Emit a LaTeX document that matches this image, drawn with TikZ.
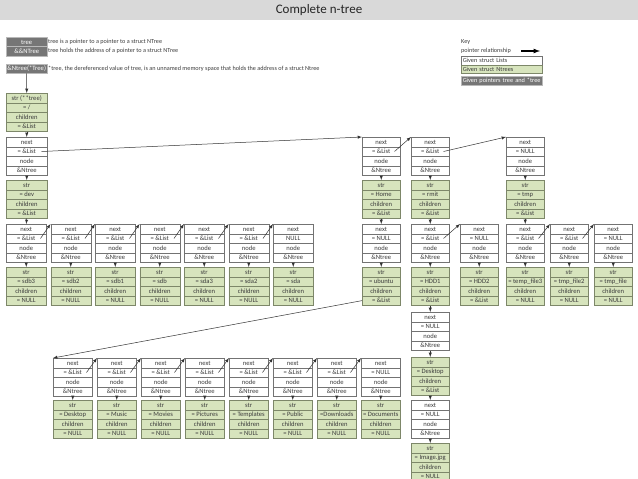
\documentclass[tikz,border=0pt]{standalone}
\usepackage{fontspec}
\setmainfont{Carlito}
\usepackage{tikz}
\tikzset{>=latex}
\usetikzlibrary{calc,arrows,shapes.multipart}

\definecolor{ntgreen}{RGB}{215,228,189}
\definecolor{ntedge}{RGB}{125,135,105}
\definecolor{lsedge}{RGB}{115,115,115}
\definecolor{ptrgray}{RGB}{118,118,118}
\definecolor{txtgray}{RGB}{60,60,60}

\newcommand{\cellfont}{\fontsize{6.6}{7}\selectfont}
\newcommand{\cellstrut}{\rule[-2.4pt]{0pt}{9pt}}
\newcommand{\lstxt}[1]{\cellstrut next\nodepart{two}\cellstrut #1\nodepart{three}\cellstrut node\nodepart{four}\cellstrut \&Ntree}
\newcommand{\nttxt}[2]{\cellstrut str\nodepart{two}\cellstrut #1\nodepart{three}\cellstrut children\nodepart{four}\cellstrut #2}
\newcommand{\nextarrow}[2]{\draw[ptr] ($(#1.text split east)!.5!(#1.two split east)+(-6,0)$) -- (#2.north west);}

\begin{document}
\begin{tikzpicture}[x=1pt, y=-1pt,
    cell/.style={rectangle split, rectangle split parts=4, anchor=north west, inner xsep=0pt, inner ysep=0pt, minimum width=38pt, font=\cellfont, text=txtgray, line width=0.5pt},
    lsbox/.style={cell, draw=lsedge, fill=white},
    ntbox/.style={cell, draw=ntedge, fill=ntgreen},
    ptrbox/.style={anchor=north west, draw=gray!55, fill=ptrgray, text=white, inner sep=0pt, minimum width=41pt, font=\cellfont},
    note/.style={anchor=west, inner sep=0pt, font=\fontsize{6.2}{7}\selectfont, text=txtgray},
    keybox/.style={anchor=north west, inner xsep=1.5pt, inner ysep=0pt, text width=78pt, align=left, font=\fontsize{6.3}{7}\selectfont, text=txtgray, line width=0.5pt},
    ptr/.style={->, draw=black!80, line width=0.5pt}]
            \useasboundingbox (0,0) rectangle (638,479);
            \fill[gray!30] (0,0) rectangle (638,20);
            \node[font=\fontsize{13}{15}\selectfont, text=black!85] (title) at (319,10) {Complete n-tree};

            \node[ptrbox, rectangle split, rectangle split parts=2] (tree) at (6,37) {\cellstrut tree\nodepart{two}\cellstrut \&\&NTree};
            \node[ptrbox] (deref) at (6,64) {\cellstrut \&Ntree(*Tree)};
            \node[note] (n1) at (48,41.5) {tree is a pointer to a pointer to a struct NTree};
            \node[note] (n2) at (48,50.5) {tree holds the address of a pointer to a struct NTree};
            \node[note] (n3) at (48,68.5) {*tree, the dereferenced value of tree, is an unnamed memory space that holds the address of a struct Ntree};

            \node[note] (key) at (461,42) {Key};
            \node[note] (keyrel) at (461,51) {pointer relationship};
            \coordinate (ka) at (521,51);
            \coordinate (kb) at (540,51);
            \draw[->, line width=1.2pt] (ka) -- (kb);
            \node[keybox, draw=lsedge, fill=white, minimum height=8.5pt] (keyls) at (461,56) {Given struct Lists};
            \node[keybox, draw=ntedge, fill=ntgreen, minimum height=8.5pt] (keynt) at (461,64.5) {Given struct Ntrees};
            \node[keybox, draw=gray!55, fill=ptrgray, text=white, minimum height=9pt] (keyptr) at (461,76) {Given pointers tree and *tree};

            \node[ntbox, minimum width=41pt] (root) at (6,93) {\cellstrut str (**tree)\nodepart{two}\cellstrut = /\nodepart{three}\cellstrut children\nodepart{four}\cellstrut = \&List};
            \node[lsbox, minimum width=41pt] (rootls) at (6,137) {\lstxt{= \&List}};
            \node[ntbox, minimum width=41pt] (dev) at (6,180) {\nttxt{= dev}{= \&List}};
            \draw[ptr] (deref.south) -- (root.north);
            \draw[ptr] (root.south) -- (rootls.north);
            \draw[ptr] (rootls.south) -- (dev.north);

            \foreach \nx/\nm [count=\i from 0] in {= \&List/sdb3,= \&List/sdb2,= \&List/sdb1,= \&List/sdb,= \&List/sda3,= \&List/sda2,NULL/sda}
            {
            \node[lsbox, minimum width=40pt] (la\i) at (6+44.5*\i,224) {\lstxt{\nx}};
            \node[ntbox, minimum width=40pt] (ga\i) at (6+44.5*\i,267) {\nttxt{= \nm}{= NULL}};
            \draw[ptr] (la\i.south) -- (ga\i.north);
            }
            \draw[ptr] (dev.south) -- (la0.north);
            \foreach \i in {0,...,5}
            {
            \pgfmathtruncatemacro{\j}{\i+1}
            \nextarrow{la\i}{la\j}
            }

            \node[lsbox] (homels) at (362,137) {\lstxt{= \&List}};
            \node[ntbox] (home) at (362,180) {\nttxt{= Home}{= \&List}};
            \node[lsbox] (rmitls) at (411,137) {\lstxt{= \&List}};
            \node[ntbox] (rmit) at (411,180) {\nttxt{= rmit}{= \&List}};
            \node[lsbox] (tmpls) at (506,137) {\lstxt{= NULL}};
            \node[ntbox] (tmp) at (506,180) {\nttxt{= tmp}{= \&List}};
            \draw[ptr] (homels.south) -- (home.north);
            \draw[ptr] (rmitls.south) -- (rmit.north);
            \draw[ptr] (tmpls.south) -- (tmp.north);
            \nextarrow{rootls}{homels}
            \nextarrow{homels}{rmitls}
            \nextarrow{rmitls}{tmpls}

            \foreach \x/\nx/\nm/\ch [count=\i from 0] in {362/= NULL/= ubuntu/= \&List,411/= \&List/= HDD1/= \&List,460/= NULL/= HDD2/= \&List,506/= \&List/= temp\_file3/= NULL,550/= \&List/= tmp\_file2/= NULL,594/= NULL/= tmp\_file/= NULL}
            {
            \node[lsbox] (lb\i) at (\x,224) {\lstxt{\nx}};
            \node[ntbox] (gb\i) at (\x,267) {\nttxt{\nm}{\ch}};
            \draw[ptr] (lb\i.south) -- (gb\i.north);
            }
            \draw[ptr] (home.south) -- (lb0.north);
            \draw[ptr] (rmit.south) -- (lb1.north);
            \draw[ptr] (tmp.south) -- (lb3.north);
            \nextarrow{lb1}{lb2}
            \nextarrow{lb3}{lb4}
            \nextarrow{lb4}{lb5}

            \node[lsbox] (hddls) at (411,312) {\lstxt{= NULL}};
            \node[ntbox] (desk) at (411,357) {\nttxt{= Desktop}{= \&List}};
            \node[lsbox] (deskls) at (411,400) {\lstxt{= NULL}};
            \node[ntbox] (image) at (411,443) {\nttxt{= Image.jpg}{= NULL}};
            \draw[ptr] (gb1.south) -- (hddls.north);
            \draw[ptr] (hddls.south) -- (desk.north);
            \draw[ptr] (desk.south) -- (deskls.north);
            \draw[ptr] (deskls.south) -- (image.north);

            \foreach \nx/\nm [count=\i from 0] in {= \&List/= Desktop,= \&List/= Music,= \&List/= Movies,= \&List/= Pictures,= \&List/= Templates,= \&List/= Public,= \&List/=Downloads,= NULL/= Documents}
            {
            \node[lsbox, minimum width=39pt] (lc\i) at (53+44*\i,358) {\lstxt{\nx}};
            \node[ntbox, minimum width=39pt] (gc\i) at (53+44*\i,400) {\nttxt{\nm}{= NULL}};
            \draw[ptr] (lc\i.south) -- (gc\i.north);
            }
            \draw[ptr] ($(gb0.three split west)!.5!(gb0.south west)$) -- (lc0.north west);
            \foreach \i in {0,...,6}
            {
            \pgfmathtruncatemacro{\j}{\i+1}
            \nextarrow{lc\i}{lc\j}
            }
        \end{tikzpicture}
\end{document}
